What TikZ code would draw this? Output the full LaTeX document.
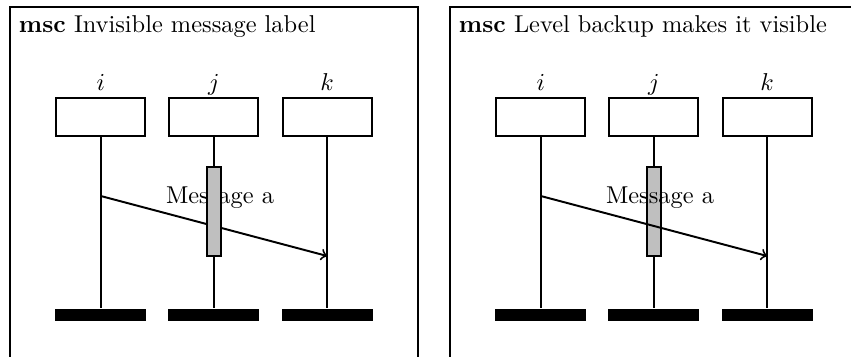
\documentclass[tikz,border=0pt]{standalone}
\tikzset{
  msc/.style={
    x=0.41pt,
    y=-0.41pt,
    line width=0.8pt
  },
  inst-head/.style={draw, fill=white, minimum width=36.5pt, minimum height=15.2pt, inner sep=0pt},
  inst-foot/.style={fill=black, minimum width=37.3pt, minimum height=4.9pt, inner sep=0pt},
  inst-name/.style={anchor=base, inner sep=0pt},
  act-region/.style={draw, fill=lightgray, minimum width=5.6pt, minimum height=36.5pt, inner sep=0pt},
  msg/.style={->},
  msg-label/.style={anchor=base, inner sep=0pt}
}
\newcommand{\mscframe}[1]{
  \draw (10,7) rectangle (418,420);
  \node[anchor=base west, inner sep=0pt] (title) at (18,32) {\textbf{msc} #1};
  \foreach \n/\x in {i/100.8,j/213.8,k/327.2}{
    \node[inst-head] (h\n) at (\x,117) {};
    \node[inst-name] (n\n) at (\x,90) {$\n$};
    \node[inst-foot] (f\n) at (\x,315) {};
    \draw (h\n.south) -- (f\n.north);
  }
}
\newcommand{\mscmessage}{
  \coordinate (si) at (100.8,196);
  \coordinate (rk) at (327.2,256);
  \draw[msg] (si) -- (rk);
  \node[msg-label] (lbl) at (220,203) {Message a};
}

\begin{document}
\begin{tikzpicture}[msc]
  \useasboundingbox (0,0) rectangle (851,356);

  % label hidden behind the region
  \begin{scope}[name prefix=l-]
    \mscframe{Invisible message label}
    \mscmessage
    \node[act-region] (aj) at (213.8,211.5) {};
  \end{scope}

  % message drawn on top
  \begin{scope}[name prefix=r-, shift={(440,0)}]
    \mscframe{Level backup makes it visible}
    \node[act-region] (aj) at (213.8,211.5) {};
    \mscmessage
  \end{scope}
\end{tikzpicture}
\end{document}
